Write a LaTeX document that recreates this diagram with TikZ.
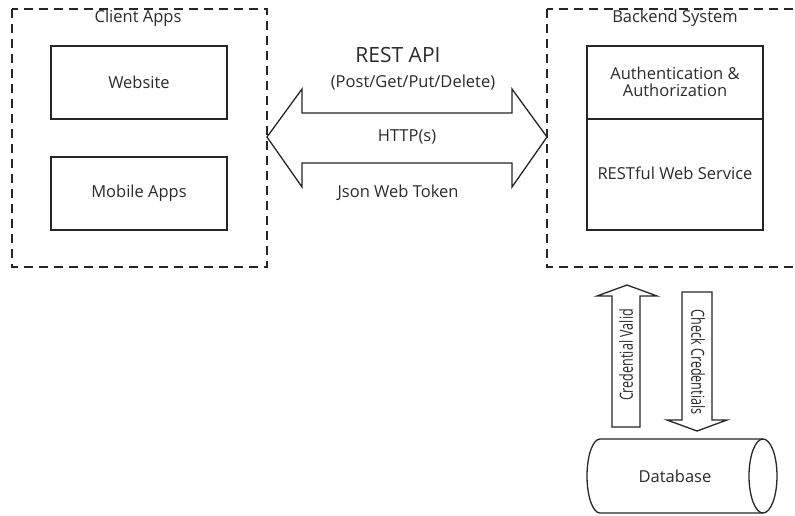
\documentclass[tikz,border=0pt]{standalone}
\usepackage{fontspec}
\setmainfont{Open Sans}
\definecolor{txt}{HTML}{2B2B2B}
\begin{document}
\begin{tikzpicture}[x=1pt,y=-1pt,
  dbox/.style={draw=black!85, line width=1.3pt, dash pattern=on 9pt off 6pt},
  sbox/.style={draw=black!85, line width=1.3pt},
  lbl/.style={text=txt, font=\fontsize{16.5}{17.5}\selectfont, inner sep=0pt, align=center},
  vlbl/.style={lbl, font=\fontsize{18}{20}\selectfont},
  arr/.style={draw=black!85, line width=1.3pt, line join=miter, fill=white}]
\useasboundingbox (0,0) rectangle (795,515);
% client apps
\draw[dbox] (12,9) rectangle (267,267);
\node[lbl] (client) at (138,18) {Client Apps};
\draw[sbox] (51,46) rectangle (227,119);
\node[lbl] (web) at (139,82) {Website};
\draw[sbox] (51,157) rectangle (227,230);
\node[lbl] (mob) at (139,193) {Mobile Apps};
% backend
\begin{scope}
\clip (0,0) rectangle (795,515);
\draw[dbox] (547,9) rectangle (802,267);
\end{scope}
\node[lbl] (backend) at (675,18) {Backend System};
\draw[sbox] (587,46) rectangle (763,230);
\draw[sbox] (587,119) -- (763,119);
\node[lbl] (auth) at (675,82) {Authentication \&\\ Authorization};
\node[lbl] (rest) at (675,173) {RESTful Web Service};
% double arrow
\draw[arr] (267,137) -- (302,89) -- (302,113) -- (512,113) -- (512,89) -- (547,137)
  -- (512,187) -- (512,163) -- (302,163) -- (302,187) -- cycle;
\node[lbl, font=\fontsize{21}{24}\selectfont] (api) at (398,55) {REST API};
\node[lbl] (verbs) at (413,83) {(Post/Get/Put/Delete)};
\node[lbl] (http) at (407,137) {HTTP(s)};
\node[lbl] (jwt) at (398,193) {Json Web Token};
% vertical arrows
\draw[arr] (627,285) -- (657,296) -- (640,296) -- (640,427) -- (612,427) -- (612,296) -- (597,296) -- cycle;
\node[vlbl, rotate=90] (valid) at (626,355) {\scalebox{0.7}[1]{Credential Valid}};
\draw[arr] (682,292) -- (712,292) -- (712,420) -- (727,420) -- (697,431) -- (667,420) -- (682,420) -- cycle;
\node[vlbl, rotate=-90] (check) at (698,362) {\scalebox{0.7}[1]{Check Credentials}};
% database
\draw[sbox, fill=white] (600,439) -- (763,439) arc[start angle=-90, end angle=90, x radius=14, y radius=37] -- (600,513)
  arc[start angle=90, end angle=270, x radius=13, y radius=37] -- cycle;
\draw[sbox] (763,439) arc[start angle=270, end angle=90, x radius=14, y radius=37];
\node[lbl] (db) at (675,476) {Database};
\end{tikzpicture}
\end{document}
